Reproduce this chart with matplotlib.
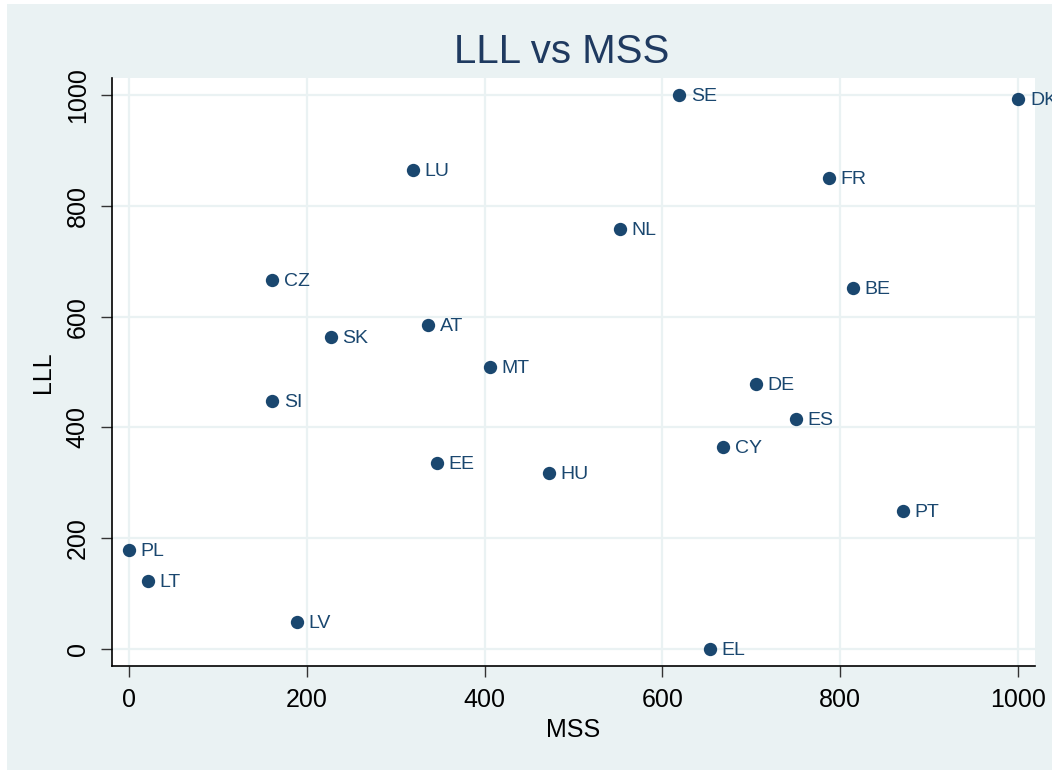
import matplotlib.pyplot as plt
from matplotlib.patches import Rectangle

# country codes with their MSS / LLL scores
countries = ['PL', 'LT', 'LV', 'SI', 'CZ', 'SK', 'AT', 'LU', 'EE', 'MT', 'HU',
             'NL', 'SE', 'EL', 'CY', 'DE', 'ES', 'FR', 'BE', 'PT', 'DK']
mss = [0, 21, 189, 161, 161, 227, 336, 319, 346, 406, 472,
       552, 619, 653, 668, 705, 750, 787, 814, 870, 1000]
lll = [179, 123, 49, 448, 666, 563, 585, 865, 336, 509, 318,
       758, 1000, 0, 365, 478, 415, 850, 652, 249, 993]

ticks = [0, 200, 400, 600, 800, 1000]

navy = '#1a476f'
bg = '#eaf2f3'

plt.rcParams['font.family'] = ['Liberation Sans', 'DejaVu Sans']

fig = plt.figure(figsize=(10.52, 7.7), dpi=100)
fig.patch.set_facecolor('white')
# stata style outer band
band = Rectangle((7 / 1052, -0.01), 1, 1.01 - 4 / 770, transform=fig.transFigure,
                 facecolor=bg, edgecolor='none', zorder=-10)
fig.add_artist(band)

ax = fig.add_axes([112 / 1052, 104 / 770, 923 / 1052, 588 / 770])
ax.set_facecolor('white')

ax.scatter(mss, lll, s=92, color=navy, zorder=3, linewidths=0)
for c, x, y in zip(countries, mss, lll):
    ax.annotate(c, (x, y), xytext=(8.5, -1.2), textcoords='offset points',
                va='center', ha='left', fontsize=14, color=navy, zorder=4)

ax.set_xlim(-19, 1019)
ax.set_ylim(-30.7, 1030.7)
ax.set_xticks(ticks)
ax.set_yticks(ticks)
ax.grid(True, color=bg, linewidth=1.6, zorder=0)
ax.set_axisbelow(True)

for side in ['top', 'right']:
    ax.spines[side].set_visible(False)
for side in ['left', 'bottom']:
    ax.spines[side].set_linewidth(1.2)
    ax.spines[side].set_color('black')

ax.tick_params(direction='out', length=8, width=1.0, color='#333333',
               labelsize=18, pad=8)
for lab in ax.get_yticklabels():
    lab.set_rotation(90)
    lab.set_va('center')

ax.set_xlabel('MSS', fontsize=18, labelpad=4)
ax.set_ylabel('LLL', fontsize=18, labelpad=8)

fig.text(562 / 1052, 1 - 52 / 770, 'LLL vs MSS', ha='center', va='center',
         fontsize=29, color='#1f3a60')

fig.savefig('out.png', dpi=100, facecolor=fig.get_facecolor())
